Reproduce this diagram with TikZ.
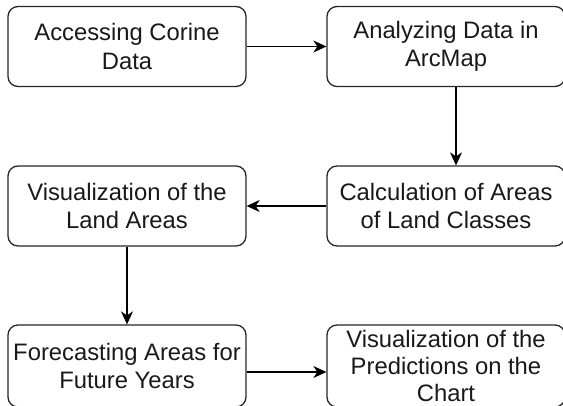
\documentclass[tikz,border=0pt]{standalone}
\usepackage{fontspec}
\setmainfont{Liberation Sans}
\usetikzlibrary{arrows.meta}
\begin{document}
\begin{tikzpicture}[x=1pt,y=-1pt,
  box/.style={draw=black!85,line width=1.3pt,rounded corners=10pt,
    minimum width=238pt,minimum height=80pt,inner sep=0pt,align=center,
    font=\fontsize{23.8pt}{28.5pt}\selectfont,text=black!90},
  arr/.style={draw=black,line width=1.1pt,-{Stealth[length=13pt,width=12pt,inset=4pt]}}]
\useasboundingbox (0,0) rectangle (563,405);
\clip (0,0) rectangle (563,405);
\node[box] (b1) at (127,46.5) {Accessing Corine\\Data};
\node[box] (b2) at (446,46.5) {Analyzing Data in\\ArcMap};
\node[box] (b3) at (446,206) {Calculation of Areas\\of Land Classes};
\node[box] (b4) at (127,206) {Visualization of the\\Land Areas};
\node[box,minimum height=82pt] (b5) at (127,366) {Forecasting Areas for\\Future Years};
\node[box,minimum height=82pt,font=\fontsize{23.8pt}{27pt}\selectfont] (b6) at (446,366) {Visualization of the\\Predictions on the\\Chart};
\draw[arr] (b1.east) -- (b2.west);
\draw[arr] ([xshift=10pt]b2.south) -- ([xshift=10pt]b3.north);
\draw[arr] (b3.west) -- (b4.east);
\draw[arr] (b4.south) -- (b5.north);
\draw[arr] ([yshift=-6pt]b5.east) -- ([yshift=-6pt]b6.west);
\end{tikzpicture}
\end{document}
